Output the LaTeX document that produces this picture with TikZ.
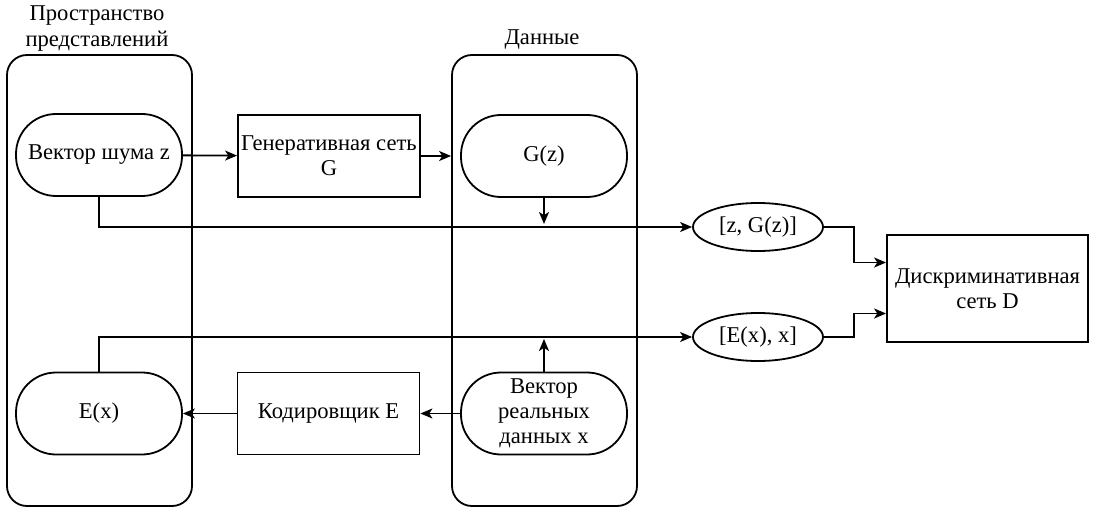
\documentclass[tikz,border=0pt]{standalone}
\usepackage{fontspec}
\setmainfont{Liberation Serif}
\usetikzlibrary{arrows.meta,calc,shapes.geometric}

\begin{document}
\begin{tikzpicture}[x=0.5pt,y=-0.5pt,
  every node/.style={font=\fontsize{11.3}{12.6}\selectfont, align=center, inner sep=1pt},
  frame/.style={draw, line width=0.9pt, rounded corners=10pt, minimum width=92.5pt, minimum height=225.5pt},
  title/.style={},
  stadium/.style={draw, line width=0.9pt, rounded corners=20pt, minimum width=83pt, minimum height=41pt},
  block/.style={draw, line width=0.9pt, minimum width=91pt, minimum height=41pt},
  oval/.style={draw, ellipse, line width=0.9pt, minimum width=65pt, minimum height=24pt, inner sep=0pt},
  arr/.style={line width=0.9pt, -{Stealth[length=6pt,width=5pt,inset=1.6pt]}},
  line/.style={line width=0.9pt}]

\useasboundingbox (0,0) rectangle (1093,508);

% containers and their titles
\node[frame] (left) at (99.5,280.5) {};
\node[frame] (data) at (544.5,280.5) {};
\node[title] (leftT) at (97,28.5) {Пространство\\представлений};
\node[title] (dataT) at (542,40) {Данные};

% upper row
\node[stadium] (noise) at (99,155) {Вектор шума z};
\node[block] (gen) at (329,156) {Генеративная сеть\\G};
\node[stadium] (gz) at (544,156) {G(z)};

% lower row
\node[stadium] (ex) at (99,413.5) {E(x)};
\node[block] (enc) at (328.5,413.5) {Кодировщик E};
\node[stadium] (real) at (544,413.5) {Вектор\\реальных\\данных x};

% pairs and discriminator
\node[oval] (zgz) at (758,227) {[z, G(z)]};
\node[oval] (exx) at (758,337) {[E(x), x]};
\node[block, minimum width=100.5pt, minimum height=53.5pt] (disc) at (987.5,288.5) {Дискриминативная\\сеть D};

% helper points
\coordinate (gzEnd) at (544,224);
\coordinate (realEnd) at (544,339);

% connectors
\draw[arr] (noise) -- (gen);
\draw[arr] (gen.east) -- (gen.east -| data.west);
\draw[arr] (gz.south) -- (gzEnd);
\draw[arr] (noise.south) |- (zgz.west);
\draw[arr] (ex.north) |- (exx.west);
\draw[arr] (real.north) -- (realEnd);
\draw[arr] (real.west) -- (enc.east);
\draw[arr] (enc.west) -- (ex.east);
\draw[arr] (zgz.east) -- ($(zgz.east)+(30,0)$) |- ($(disc.west)+(0,-26)$);
\draw[arr] (exx.east) -- ($(exx.east)+(30,0)$) |- ($(disc.west)+(0,25)$);

\end{tikzpicture}
\end{document}
